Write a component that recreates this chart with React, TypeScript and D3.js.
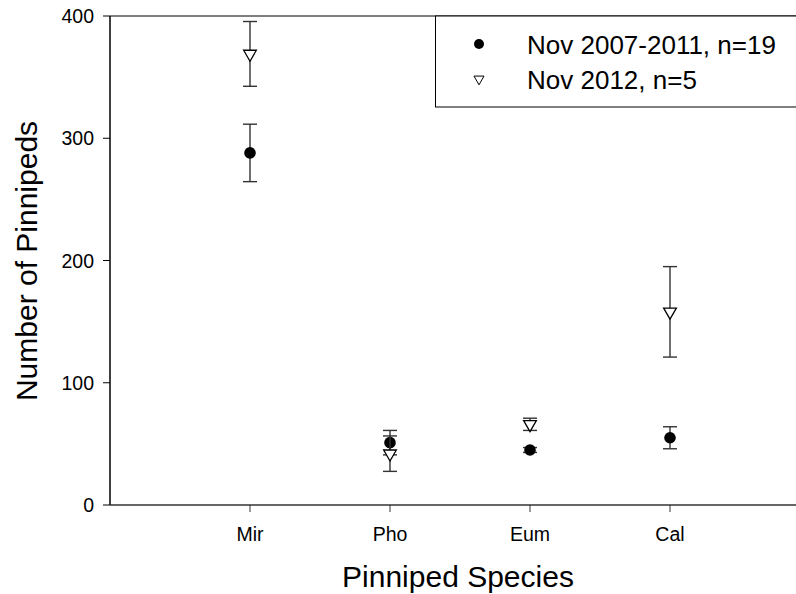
import React from "react";
import * as d3 from "d3";

const categories = ["Mir", "Pho", "Eum", "Cal"];
const seriesNames = ["Nov 2007-2011, n=19", "Nov 2012, n=5"];
const meanHist = [288, 51, 45, 55];
const errHist = [23.5, 10, 2, 9];
const mean2012 = [369, 42, 66, 158];
const err2012 = [26.5, 14.5, 5, 37];
const yTicks = [0, 100, 200, 300, 400];

const W = 796, H = 594;
const font = "'Liberation Sans', Arial, sans-serif";

export default function App() {
  const x = d3.scaleLinear().domain([0, 5]).range([110, 810]);
  const y = d3.scaleLinear().domain([0, 400]).range([505, 16]);
  const tri = d3.symbol().type(d3.symbolTriangle).size(70)();
  const legendTri = d3.symbol().type(d3.symbolTriangle).size(44)();

  const errorBar = (cx: number, m: number, e: number, key: string) => (
    <g key={key} stroke="#333" strokeWidth={1.4}>
      <line x1={cx} x2={cx} y1={y(m + e)} y2={y(m - e)} />
      <line x1={cx - 7} x2={cx + 7} y1={y(m + e)} y2={y(m + e)} />
      <line x1={cx - 7} x2={cx + 7} y1={y(m - e)} y2={y(m - e)} />
    </g>
  );

  return (
    <svg width={W} height={H} style={{ position: "fixed", left: 0, top: 0, background: "#fff" }} fontFamily={font}>
      <rect width={W} height={H} fill="#fff" />
      {/* axes */}
      <line x1={110} x2={810} y1={16} y2={16} stroke="#000" strokeWidth={1} />
      <line x1={110} x2={110} y1={16} y2={505} stroke="#000" strokeWidth={1.5} />
      <line x1={110} x2={810} y1={505} y2={505} stroke="#333" strokeWidth={1.5} />
      {yTicks.map((t) => (
        <g key={t}>
          <line x1={103} x2={110} y1={y(t)} y2={y(t)} stroke="#000" strokeWidth={1} />
          <text x={94} y={y(t) + 7} textAnchor="end" fontSize={19.5}>{t}</text>
        </g>
      ))}
      {categories.map((c, i) => (
        <g key={c}>
          <line x1={x(i + 1)} x2={x(i + 1)} y1={505} y2={512} stroke="#333" strokeWidth={1} />
          <text x={x(i + 1)} y={541} textAnchor="middle" fontSize={19.5}>{c}</text>
        </g>
      ))}
      <text x={458} y={587} textAnchor="middle" fontSize={30}>Pinniped Species</text>
      <text transform={`translate(37,261) rotate(-90)`} textAnchor="middle" fontSize={30}>Number of Pinnipeds</text>

      {/* data */}
      {categories.map((c, i) => errorBar(x(i + 1), meanHist[i], errHist[i], "eh" + c))}
      {categories.map((c, i) => (
        <circle key={"ch" + c} cx={x(i + 1)} cy={y(meanHist[i])} r={5.8} fill="#000" />
      ))}
      {categories.map((c, i) => errorBar(x(i + 1), mean2012[i], err2012[i], "e2" + c))}
      {categories.map((c, i) => (
        <path key={"t2" + c} d={tri} transform={`translate(${x(i + 1)},${y(mean2012[i])}) rotate(180)`} fill="#fff" stroke="#000" strokeWidth={1.3} />
      ))}

      {/* legend */}
      <rect x={435.5} y={16} width={400} height={91} fill="#fff" stroke="#000" strokeWidth={1} />
      <circle cx={479} cy={44} r={5} fill="#000" />
      <text x={527} y={53.5} fontSize={26}>{seriesNames[0]}</text>
      <path d={legendTri} transform={`translate(479,79) rotate(180)`} fill="#fff" stroke="#000" strokeWidth={1} />
      <text x={527} y={88.5} fontSize={26}>{seriesNames[1]}</text>
    </svg>
  );
}
